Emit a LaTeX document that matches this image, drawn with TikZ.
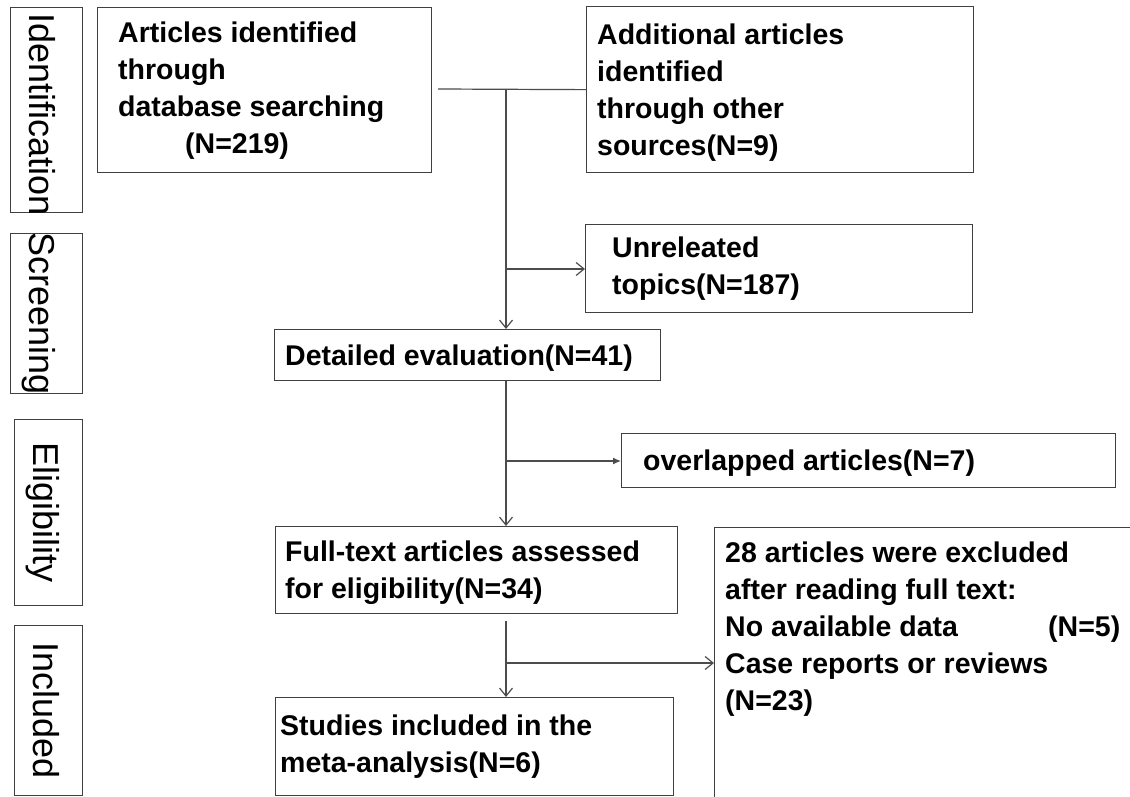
\documentclass[tikz,border=0pt]{standalone}
\usepackage{fontspec}
\setmainfont{Liberation Sans}
\usetikzlibrary{arrows.meta}
\begin{document}
\begin{tikzpicture}[x=1pt,y=-1pt,
  box/.style={draw=black!75, line width=1.3pt, anchor=north west, inner sep=0pt},
  txt/.style={anchor=north west, inner sep=0pt, align=left, font=\bfseries\fontsize{28.5}{37}\selectfont},
  side/.style={rotate=-90, anchor=base, inner sep=0pt, font=\fontsize{36}{40}\selectfont},
  conn/.style={draw=black!70, line width=1.2pt},
  oarr/.style={conn, -{Straight Barb[length=8pt,width=13pt,line width=1.2pt]}},
  farr/.style={conn, -{Latex[length=8pt,width=7pt]}}]
\useasboundingbox (0,0) rectangle (1130,797);
\fill[white] (0,0) rectangle (1130,797);

% side labels
\node[box, minimum width=72pt, minimum height=205pt] (L1) at (10,7) {};
\node[side] (S1) at ([xshift=-17pt,yshift=-4pt]L1.center) {Identification};
\node[box, minimum width=72pt, minimum height=160pt] (L2) at (10,233) {};
\node[side] (S2) at ([xshift=-17pt]L2.center) {Screening};
\node[box, minimum width=68pt, minimum height=186pt] (L3) at (14,419) {};
\node[side] (S3) at ([xshift=-15pt]L3.center) {Eligibility};
\node[box, minimum width=68pt, minimum height=170pt] (L4) at (14,625) {};
\node[side] (S4) at ([xshift=-15pt]L4.center) {Included};

% boxes
\node[box, minimum width=334pt, minimum height=165pt] (A) at (97,7) {};
\node[txt] (tA) at (118,22) {Articles identified\\through\\database searching\\\hspace*{67pt}(N=219)};
\node[box, minimum width=387pt, minimum height=166pt] (B) at (586,6) {};
\node[txt] (tB) at (597,24) {Additional articles\\identified\\through other\\sources(N=9)};
\node[box, minimum width=387pt, minimum height=88pt] (U) at (585,224) {};
\node[txt] (tU) at (612,237) {Unreleated\\topics(N=187)};
\node[box, minimum width=386pt, minimum height=51pt] (D) at (274,329) {};
\node[txt] (tD) at (285,345) {Detailed evaluation(N=41)};
\node[box, minimum width=494pt, minimum height=54pt] (O) at (621,433) {};
\node[txt] (tO) at (643,450) {overlapped articles(N=7)};
\node[box, minimum width=402pt, minimum height=87pt] (F) at (275,526) {};
\node[txt] (tF) at (285,541) {Full-text articles assessed\\for eligibility(N=34)};
\node[box, minimum width=425pt, minimum height=280pt] (E) at (714,527) {};
\node[txt] (tE) at (725,542) {28 articles were excluded\\after reading full text:\\\makebox[323pt][l]{No available data}(N=5)\\Case reports or reviews\\(N=23)};
\node[box, minimum width=398pt, minimum height=98pt] (St) at (275,697) {};
\node[txt] (tS) at (280,715) {Studies included in the\\meta-analysis(N=6)};

% connectors
\coordinate (jl) at (438,89);
\coordinate (j) at (506,89);
\coordinate (b1) at (506,269);
\coordinate (b2) at (506,461);
\coordinate (f0) at (506,621);
\coordinate (b3) at (506,663);
\draw[conn] (jl) -- (B.west);
\draw[oarr] (j) -- (j |- D.north);
\draw[oarr] (b1) -- (U.west |- b1);
\draw[oarr] (D.south -| j) -- (j |- F.north);
\draw[farr] (b2) -- (O.west |- b2);
\draw[oarr] (f0) -- (f0 |- St.north);
\draw[oarr] (b3) -- (E.west |- b3);
\end{tikzpicture}
\end{document}
